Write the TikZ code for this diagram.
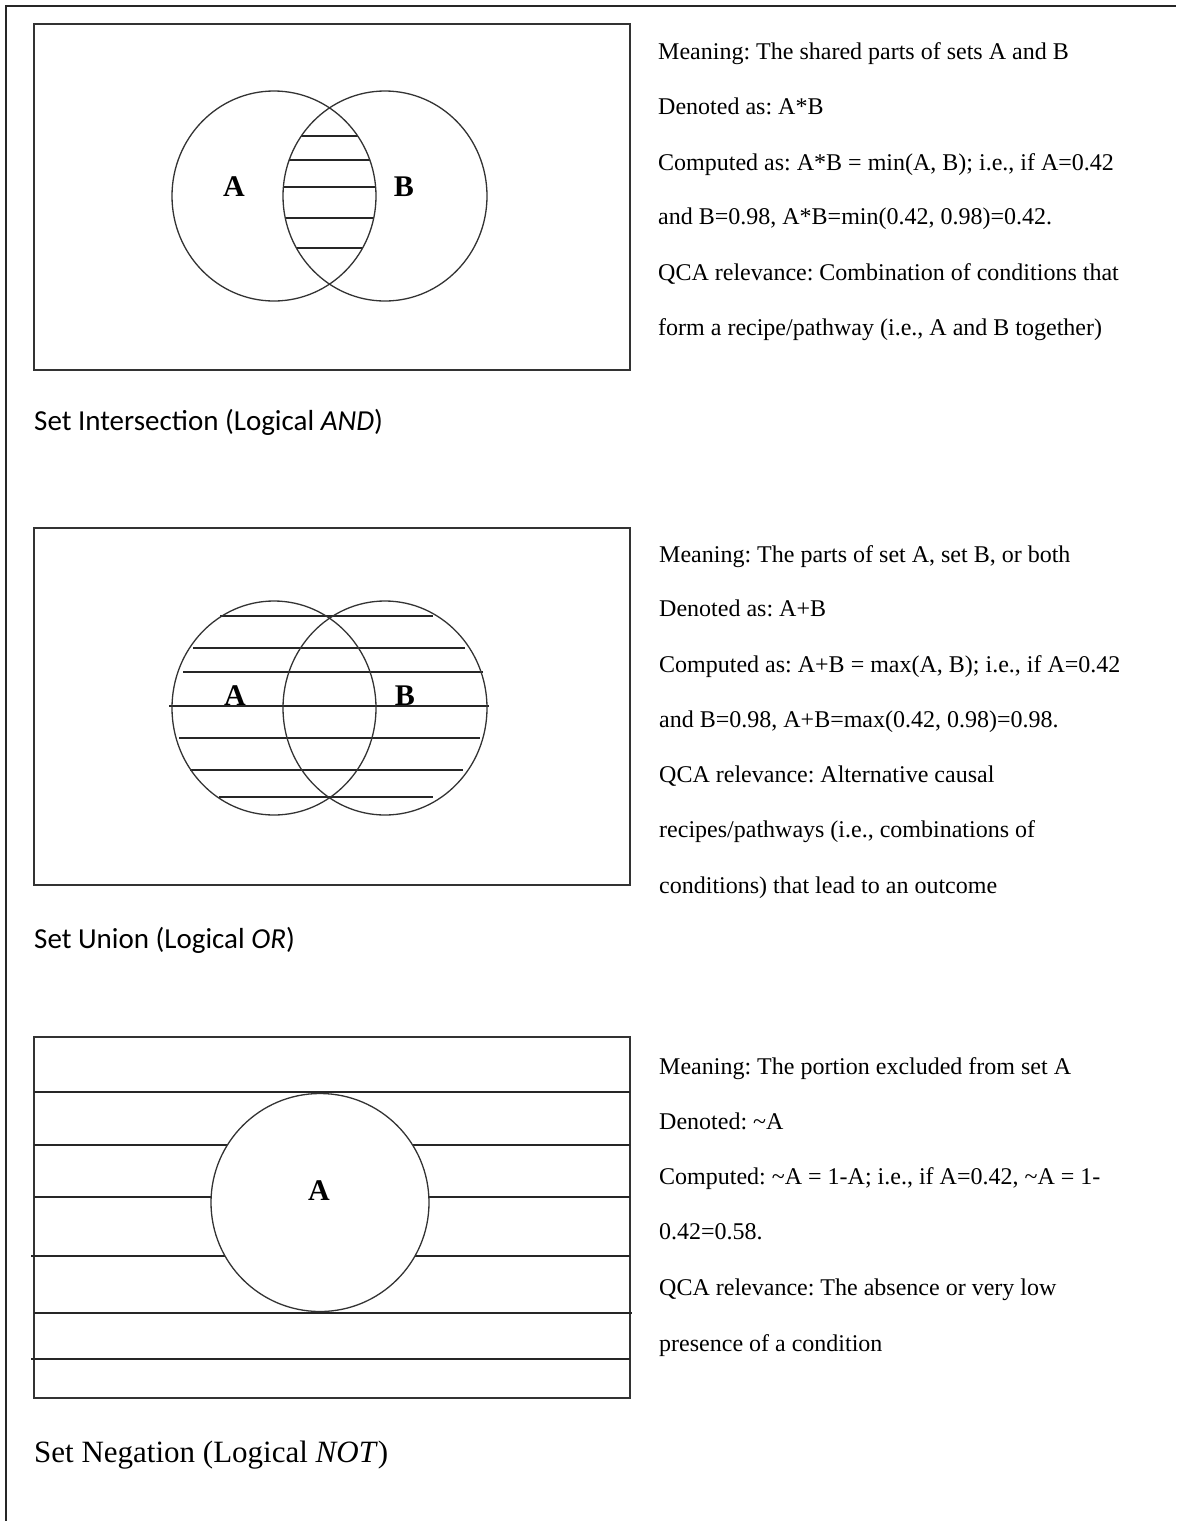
\documentclass[tikz,border=0pt]{standalone}
\usepackage{fontspec}
\setmainfont{Liberation Serif}
\newfontfamily\calfont{Carlito}
\frenchspacing
\tikzset{
  frame/.style={draw=black!85, line width=2pt},
  boxline/.style={draw=black!80, line width=1.8pt},
  circ/.style={draw=black!80, line width=1.3pt},
  hatch/.style={draw=black!85, line width=1.4pt},
  lab/.style={font=\fontsize{30}{32}\selectfont\bfseries, inner sep=0pt, anchor=base},
  txt/.style={font=\fontsize{24}{26}\selectfont, inner sep=0pt, anchor=base west},
  capsans/.style={font=\calfont\fontsize{29}{31}\selectfont, inner sep=0pt, anchor=base west},
  capserif/.style={font=\fontsize{31}{33}\selectfont, inner sep=0pt, anchor=base west}
}
\begin{document}
\begin{tikzpicture}[x=1pt,y=-1pt]
\useasboundingbox (0,0) rectangle (1176,1521);
\draw[frame] (6,1521) -- (6,6) -- (1176,6);

% ---------- Panel 1: intersection ----------
\draw[boxline] (34,24) rectangle (630,370);
\begin{scope}
  \clip (274,196) ellipse [x radius=102pt, y radius=105pt];
  \clip (385,196) ellipse [x radius=102pt, y radius=105pt];
  \foreach \yy in {136,160,187,218,248} \draw[hatch] (250,\yy) -- (410,\yy);
\end{scope}
\draw[circ] (274,196) ellipse [x radius=102pt, y radius=105pt];
\draw[circ] (385,196) ellipse [x radius=102pt, y radius=105pt];
\node[lab] (a1) at (234,196) {A};
\node[lab] (b1) at (404,196) {B};

\node[txt] (t11) at (658,59) {Meaning: The shared parts of sets A and B};
\node[txt] (t12) at (658,114) {Denoted as: A*B};
\node[txt] (t13) at (658,170) {Computed as: A*B = min(A, B); i.e., if A=0.42};
\node[txt] (t14) at (658,224) {and B=0.98, A*B=min(0.42, 0.98)=0.42.};
\node[txt] (t15) at (658,280) {QCA relevance: Combination of conditions that};
\node[txt] (t16) at (658,335) {form a recipe/pathway (i.e., A and B together)};
\node[capsans] (c1) at (34,430) {Set Intersection (Logical \textit{AND})};

% ---------- Panel 2: union ----------
\draw[boxline] (34,528) rectangle (630,885);
\draw[hatch] (220,616) -- (433,616);
\draw[hatch] (193,648) -- (465,648);
\draw[hatch] (183,672) -- (483,672);
\draw[hatch] (169,706) -- (489,706);
\draw[hatch] (179,738) -- (480,738);
\draw[hatch] (190,770) -- (463,770);
\draw[hatch] (219,797) -- (433,797);
\draw[circ] (274,708) ellipse [x radius=102pt, y radius=107pt];
\draw[circ] (385,708) ellipse [x radius=102pt, y radius=107pt];
\node[lab] (a2) at (235,705) {A};
\node[lab] (b2) at (405,705) {B};

\node[txt] (t21) at (659,562) {Meaning: The parts of set A, set B, or both};
\node[txt] (t22) at (659,616) {Denoted as: A+B};
\node[txt] (t23) at (659,672) {Computed as: A+B = max(A, B); i.e., if A=0.42};
\node[txt] (t24) at (659,727) {and B=0.98, A+B=max(0.42, 0.98)=0.98.};
\node[txt] (t25) at (659,782) {QCA relevance: Alternative causal};
\node[txt] (t26) at (659,837) {recipes/pathways (i.e., combinations of};
\node[txt] (t27) at (659,893) {conditions) that lead to an outcome};
\node[capsans] (c2) at (34,948) {Set Union (Logical \textit{OR})};

% ---------- Panel 3: negation ----------
\draw[boxline] (34,1037) rectangle (630,1398);
\draw[hatch] (34,1092) -- (630,1092);
\draw[hatch] (34,1145) -- (630,1145);
\draw[hatch] (34,1197) -- (630,1197);
\draw[hatch] (31,1256) -- (630,1256);
\draw[hatch] (34,1313) -- (632,1313);
\draw[hatch] (31,1359) -- (630,1359);
\draw[circ, fill=white] (320,1202.5) circle [radius=109pt];
\node[lab] (a3) at (319,1200) {A};

\node[txt] (t31) at (659,1074) {Meaning: The portion excluded from set A};
\node[txt] (t32) at (659,1129) {Denoted: \textasciitilde A};
\node[txt] (t33) at (659,1184) {Computed: \textasciitilde A = 1-A; i.e., if A=0.42, \textasciitilde A = 1-};
\node[txt] (t34) at (659,1239) {0.42=0.58.};
\node[txt] (t35) at (659,1295) {QCA relevance: The absence or very low};
\node[txt] (t36) at (659,1351) {presence of a condition};
\node[capserif] (c3) at (34,1462) {Set Negation (Logical \textit{NOT})};
\end{tikzpicture}
\end{document}
